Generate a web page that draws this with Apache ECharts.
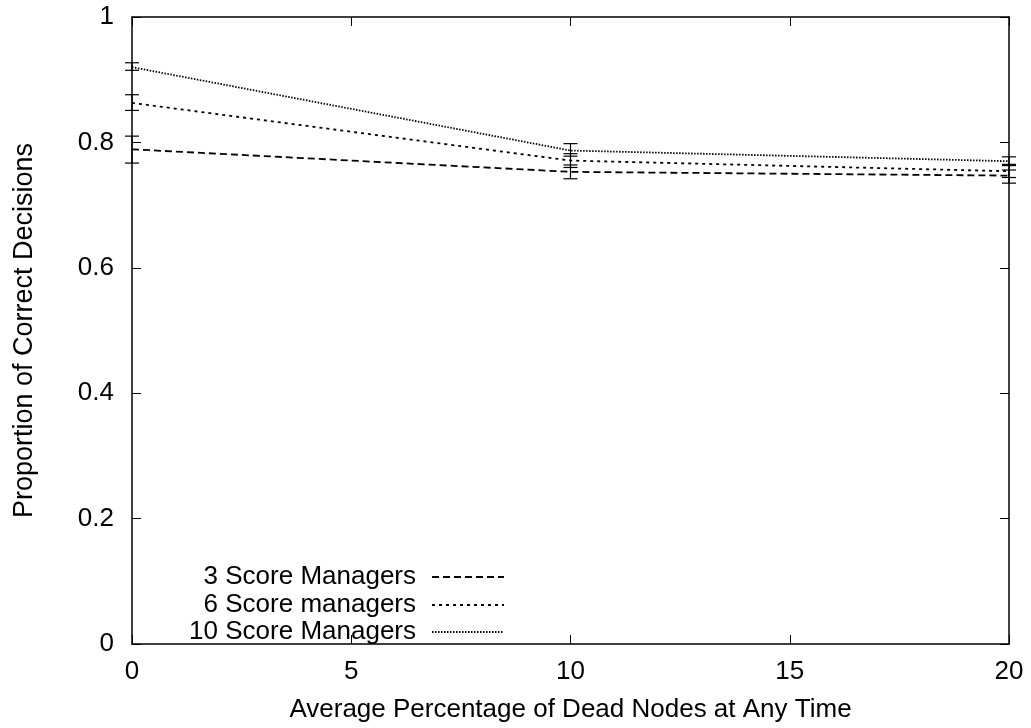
<!DOCTYPE html>
<html><head><meta charset="utf-8">
<script src="https://cdn.jsdelivr.net/npm/echarts@6/dist/echarts.min.js"></script>
<style>html,body{margin:0;padding:0;background:#fff}#c{width:1031px;height:728px}</style>
</head><body><div id="c"></div>
<script>
const xValues = [0, 10, 20];
const seriesNames = ['3 Score Managers', '6 Score managers', '10 Score Managers'];
const s3 = [0.789, 0.753, 0.747];
const s3Low = [0.767, 0.742, 0.735];
const s3High = [0.810, 0.764, 0.756];
const s6 = [0.863, 0.771, 0.754];
const s6Low = [0.851, 0.760, 0.744];
const s6High = [0.876, 0.782, 0.765];
const s10 = [0.920, 0.787, 0.770];
const s10Low = [0.915, 0.778, 0.763];
const s10High = [0.927, 0.798, 0.777];
const xTicks = [0, 5, 10, 15, 20];
const yTicks = [0, 0.2, 0.4, 0.6, 0.8, 1];

const FONT = 'Liberation Sans, Arial, sans-serif';
const FS = 26;
const dashes = [[7, 4], [3, 4], [1.5, 1.5]];
const vals = [s3, s6, s10], lows = [s3Low, s6Low, s10Low], highs = [s3High, s6High, s10High];

const chart = echarts.init(document.getElementById('c'));
const series = [];
seriesNames.forEach((name, i) => {
  series.push({
    name, type: 'line', xAxisIndex: 0, yAxisIndex: 0,
    data: xValues.map((x, j) => [x, vals[i][j]]),
    showSymbol: false, symbol: 'none',
    lineStyle: { color: '#000', width: 1.8, type: dashes[i] },
    itemStyle: { color: '#000' }, z: 3, animation: false
  });
  series.push({
    type: 'custom', xAxisIndex: 0, yAxisIndex: 0, animation: false, z: 4,
    data: xValues.map((x, j) => [x, lows[i][j], highs[i][j]]),
    renderItem: function (params, api) {
      const lo = api.coord([api.value(0), api.value(1)]);
      const hi = api.coord([api.value(0), api.value(2)]);
      const w = 7;
      const st = { stroke: '#000', lineWidth: 1.2 };
      return { type: 'group', children: [
        { type: 'line', shape: { x1: lo[0], y1: lo[1], x2: hi[0], y2: hi[1] }, style: st },
        { type: 'line', shape: { x1: lo[0] - w, y1: lo[1], x2: lo[0] + w, y2: lo[1] }, style: st },
        { type: 'line', shape: { x1: hi[0] - w, y1: hi[1], x2: hi[0] + w, y2: hi[1] }, style: st }
      ]};
    }
  });
});

const legendTops = [564, 592, 619];
const axisLine = { show: true, onZero: false, lineStyle: { color: '#000', width: 1.5 } };
const tick = { show: true, inside: true, length: 9, lineStyle: { color: '#000', width: 1 } };
chart.setOption({
  animation: false,
  backgroundColor: '#fff',
  grid: { left: 132, top: 17, right: 22, bottom: 82, containLabel: false },
  legend: seriesNames.map((n, i) => ({
    data: [{ name: n, itemStyle: { opacity: 0 } }], right: 526, top: legendTops[i], align: 'right', orient: 'vertical',
    itemWidth: 72, itemHeight: 14, padding: 0, selectedMode: false,
    itemStyle: { opacity: 0 },
    textStyle: { fontFamily: FONT, fontSize: FS, color: '#000', padding: [0, 11, 0, 0] }
  })),
  xAxis: [{
    type: 'value', min: xTicks[0], max: xTicks[xTicks.length - 1], interval: 5,
    position: 'bottom',
    name: 'Average Percentage of Dead Nodes at Any Time', nameLocation: 'middle', nameGap: 53,
    nameTextStyle: { fontFamily: FONT, fontSize: FS, color: '#000' },
    axisLine, axisTick: tick,
    axisLabel: { fontFamily: FONT, fontSize: FS, color: '#000', margin: 15 },
    splitLine: { show: false }
  }, {
    type: 'value', min: 0, max: 20, interval: 5, position: 'top',
    axisLine, axisTick: tick,
    axisLabel: { show: false }, splitLine: { show: false }
  }],
  yAxis: [{
    type: 'value', min: yTicks[0], max: yTicks[yTicks.length - 1], interval: 0.2,
    position: 'left',
    name: 'Proportion of Correct Decisions', nameLocation: 'middle', nameGap: 94,
    nameTextStyle: { fontFamily: FONT, fontSize: 27, color: '#000' },
    axisLine, axisTick: tick,
    axisLabel: { fontFamily: FONT, fontSize: FS, color: '#000', margin: 18,
      formatter: v => String(Math.round(v * 10) / 10) },
    splitLine: { show: false }
  }, {
    type: 'value', min: 0, max: 1, interval: 0.2, position: 'right',
    axisLine, axisTick: tick,
    axisLabel: { show: false }, splitLine: { show: false }
  }],
  series
});
</script></body></html>
